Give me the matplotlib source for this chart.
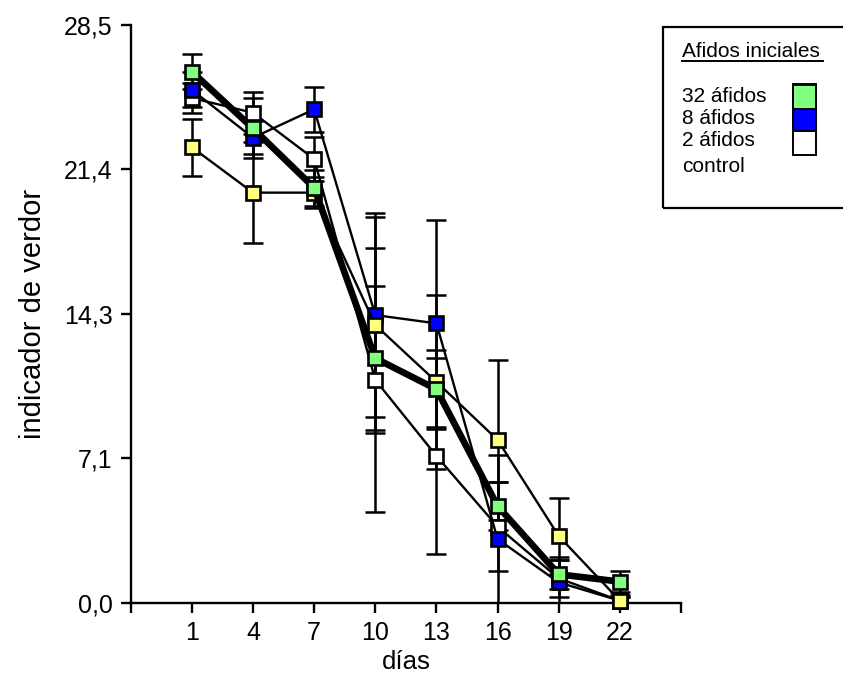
import matplotlib
matplotlib.use("Agg")
import matplotlib.pyplot as plt
from matplotlib.patches import Rectangle
from matplotlib.lines import Line2D
import numpy as np

plt.rcParams['font.family'] = ['Liberation Sans', 'DejaVu Sans']

# --- data ---------------------------------------------------------------
days = [1, 4, 7, 10, 13, 16, 19, 22]

afidos_32 = [26.2, 23.4, 20.47, 12.06, 10.53, 4.77, 1.4, 1.04]
afidos_32_err = [0.87, 1.48, 0.9, 3.55, 1.94, 1.2, 0.7, 0.52]

afidos_8 = [25.3, 22.94, 24.34, 14.19, 13.78, 3.14, 1.0, 0.1]
afidos_8_err = [0.86, 0.8, 1.12, 5.02, 5.1, 4.15, 1.27, 0.2]

afidos_2 = [24.9, 24.17, 21.89, 10.99, 7.24, 3.75, 1.2, 0.1]
afidos_2_err = [0.73, 1.03, 1.1, 6.5, 4.85, 2.2, 0.9, 0.2]

control = [22.47, 20.23, 20.23, 13.7, 10.9, 8.03, 3.29, 0.1]
control_err = [1.4, 2.5, 0.77, 5.35, 4.3, 3.94, 1.89, 0.3]

series_labels = ["32 áfidos", "8 áfidos", "2 áfidos", "control"]
legend_title = "Afidos iniciales"

xticks = [-2, 1, 4, 7, 10, 13, 16, 19, 22, 25]
xtick_labels = ["", "1", "4", "7", "10", "13", "16", "19", "22", ""]
yticks = [0, 7.125, 14.25, 21.375, 28.5]
ytick_labels = ["0,0", "7,1", "14,3", "21,4", "28,5"]

# --- figure -------------------------------------------------------------
W, H = 843, 686
fig = plt.figure(figsize=(W / 100, H / 100), dpi=100)
ax = fig.add_axes([130.7 / W, 1 - 602.7 / H, (681 - 130.7) / W, (602.7 - 25) / H])

ax.set_xlim(-2, 25)
ax.set_ylim(0, 28.5)

# (values, errors, face colour, line width, zorder) bottom -> top
styles = [
    (afidos_2, afidos_2_err, "#FFFFFF", 1.7, 4),
    (afidos_8, afidos_8_err, "#0000FF", 1.7, 5),
    (control, control_err, "#FFFF80", 1.7, 6),
    (afidos_32, afidos_32_err, "#80FF80", 4.8, 7),
]

for vals, errs, col, lw, z in styles:
    ax.errorbar(days, vals, yerr=errs, fmt="none", ecolor="black",
                elinewidth=1.8, capsize=7.5, capthick=1.8, zorder=2)

for vals, errs, col, lw, z in styles:
    ax.plot(days, vals, color="black", lw=lw, zorder=z, clip_on=False,
            solid_joinstyle="round")
    ax.plot(days, vals, ls="none", marker="s", ms=10, mfc=col,
            mec="black", mew=1.9, zorder=z + 0.5, clip_on=False)

for s in ("top", "right"):
    ax.spines[s].set_visible(False)
for s in ("left", "bottom"):
    ax.spines[s].set_linewidth(1.7)

ax.set_xticks(xticks)
ax.set_xticklabels(xtick_labels)
ax.set_yticks(yticks)
ax.set_yticklabels(ytick_labels)
ax.tick_params(direction="out", length=7, width=1.7, labelsize=18, pad=6)

ax.set_xlabel("días", fontsize=18.5, labelpad=4)
ax.set_ylabel("indicador de verdor", fontsize=21, labelpad=12)


# --- legend box drawn in pixel units --------------------------------------
def fx(px):
    return px / W


def fy(py):
    return 1 - py / H


fig.add_artist(Rectangle((fx(662.7), fy(208)), fx(860) - fx(662.7), fy(26.7) - fy(208),
                         transform=fig.transFigure, fill=False, lw=1.6,
                         ec="black", clip_on=False))
fig.text(fx(682), fy(57), legend_title, fontsize=15, ha="left", va="baseline")
fig.add_artist(Line2D([fx(682), fx(823)], [fy(61), fy(61)],
                      transform=fig.transFigure, color="black", lw=1.4))

label_y = [96.7, 118.7, 141, 166.7]
for lab, y in zip(series_labels, label_y):
    fig.text(fx(682), fy(y), lab, fontsize=15, ha="left", va="center")

# swatches (control sits underneath the 32 áfidos one)
sw = [("#FFFF80", 84, 108), ("#80FF80", 85.5, 109), ("#0000FF", 109, 131),
      ("#FFFFFF", 131, 155)]
for col, y0, y1 in sw:
    fig.add_artist(Rectangle((fx(793), fy(y1)), fx(816) - fx(793), fy(y0) - fy(y1),
                             transform=fig.transFigure, fc=col, ec="black",
                             lw=1.4))

fig.savefig("out.png", dpi=100)
